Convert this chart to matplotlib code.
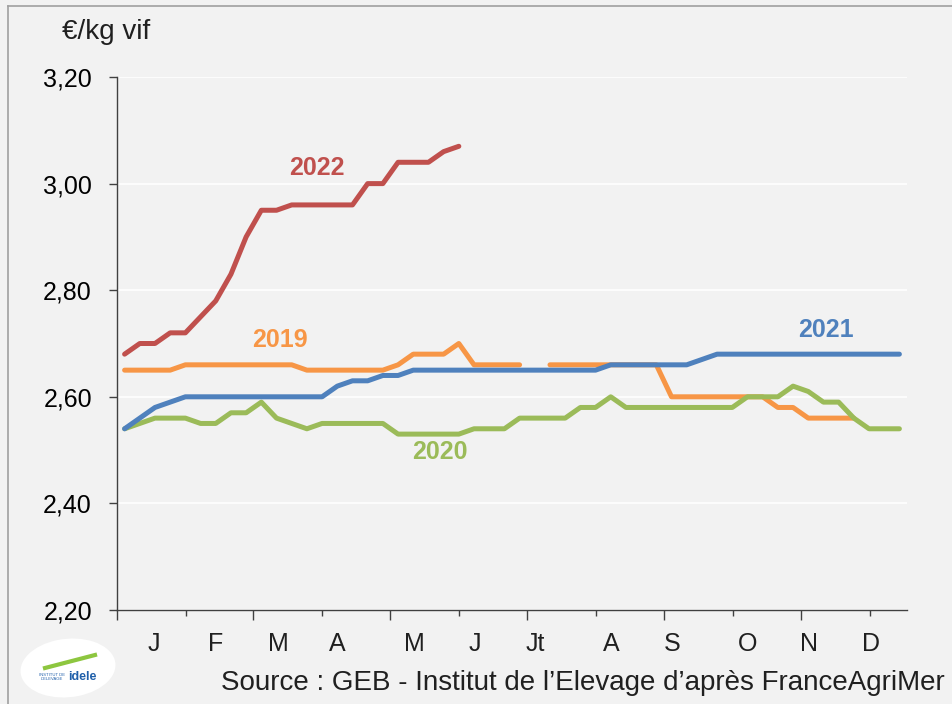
"""
Prix des bovins - cotation hebdomadaire en euros/kg vif, 2019 a 2022
"""

import numpy as np
import matplotlib.pyplot as plt
from matplotlib.patches import Ellipse

# weekly prices (EUR/kg vif), week index 0..51
prix_2019 = [2.65, 2.65, 2.65, 2.65, 2.66, 2.66, 2.66, 2.66, 2.66, 2.66, 2.66, 2.66,
             2.65, 2.65, 2.65, 2.65, 2.65, 2.65, 2.66, 2.68, 2.68, 2.68, 2.70, 2.66,
             2.66, 2.66, 2.66, np.nan, 2.66, 2.66, 2.66, 2.66, 2.66, 2.66, 2.66, 2.66,
             2.60, 2.60, 2.60, 2.60, 2.60, 2.60, 2.60, 2.58, 2.58, 2.56, 2.56, 2.56,
             2.56]
prix_2020 = [2.54, 2.55, 2.56, 2.56, 2.56, 2.55, 2.55, 2.57, 2.57, 2.59, 2.56, 2.55,
             2.54, 2.55, 2.55, 2.55, 2.55, 2.55, 2.53, 2.53, 2.53, 2.53, 2.53, 2.54,
             2.54, 2.54, 2.56, 2.56, 2.56, 2.56, 2.58, 2.58, 2.60, 2.58, 2.58, 2.58,
             2.58, 2.58, 2.58, 2.58, 2.58, 2.60, 2.60, 2.60, 2.62, 2.61, 2.59, 2.59,
             2.56, 2.54, 2.54, 2.54]
prix_2021 = [2.54, 2.56, 2.58, 2.59, 2.60, 2.60, 2.60, 2.60, 2.60, 2.60, 2.60, 2.60,
             2.60, 2.60, 2.62, 2.63, 2.63, 2.64, 2.64, 2.65, 2.65, 2.65, 2.65, 2.65,
             2.65, 2.65, 2.65, 2.65, 2.65, 2.65, 2.65, 2.65, 2.66, 2.66, 2.66, 2.66,
             2.66, 2.66, 2.67, 2.68, 2.68, 2.68, 2.68, 2.68, 2.68, 2.68, 2.68, 2.68,
             2.68, 2.68, 2.68, 2.68]
prix_2022 = [2.68, 2.70, 2.70, 2.72, 2.72, 2.75, 2.78, 2.83, 2.90, 2.95, 2.95, 2.96,
             2.96, 2.96, 2.96, 2.96, 3.00, 3.00, 3.04, 3.04, 3.04, 3.06, 3.07]

mois = ['J', 'F', 'M', 'A', 'M', 'J', 'Jt', 'A', 'S', 'O', 'N', 'D']
mois_pos = [1.94, 6.02, 10.10, 13.98, 19.05, 23.07, 27.02, 32.02, 36.04, 40.98, 45.06, 49.14]
ticks_long = [-0.5, 8.45, 17.47, 26.49, 35.51, 44.53]
ticks_short = [4.04, 12.99, 22.01, 31.03, 40.05, 49.07]
y_ticks = [2.20, 2.40, 2.60, 2.80, 3.00, 3.20]

series = [
    ('2019', prix_2019, '#F79646', (10.23, 2.707)),
    ('2020', prix_2020, '#9BBB59', (20.76, 2.496)),
    ('2021', prix_2021, '#4F81BD', (46.18, 2.725)),
    ('2022', prix_2022, '#C0504D', (12.67, 3.029)),
]

plt.rcParams['font.family'] = ['Liberation Sans', 'DejaVu Sans']

bg = '#F2F2F2'
fig = plt.figure(figsize=(9.53, 7.04), dpi=100, facecolor=bg)
ax = fig.add_axes([117 / 953, 1 - 610 / 704, 790 / 953, 533 / 704])
ax.set_facecolor(bg)

for label, values, color, (lx, ly) in series:
    x = np.arange(len(values))
    ax.plot(x, values, color=color, linewidth=3.6, solid_capstyle='round',
            solid_joinstyle='round')
    ax.text(lx, ly, label, color=color, fontsize=18, fontweight='bold',
            ha='center', va='center')

ax.set_xlim(-0.5, 51.5)
ax.set_ylim(2.20, 3.20)
ax.set_yticks(y_ticks)
ax.set_yticklabels([f'{v:.2f}'.replace('.', ',') for v in y_ticks], fontsize=18)
ax.yaxis.grid(True, color='white', linewidth=1.2)
ax.set_axisbelow(True)

ax.set_xticks(ticks_long)
ax.set_xticks(ticks_short, minor=True)
ax.set_xticklabels([])
ax.tick_params(axis='x', which='major', length=7, width=1, color='#404040')
ax.tick_params(axis='x', which='minor', length=4.5, width=1, color='#404040')
ax.tick_params(axis='y', length=6, width=1, color='#404040', pad=12)

for p, m in zip(mois_pos, mois):
    ax.text(p, -0.063, m, transform=ax.get_xaxis_transform(), ha='center',
            va='center', fontsize=18, color='#202020')

for side in ['top', 'right']:
    ax.spines[side].set_visible(False)
for side in ['left', 'bottom']:
    ax.spines[side].set_color('#404040')
    ax.spines[side].set_linewidth(1)

fig.text(62 / 953, 1 - 32 / 704, '€/kg vif', fontsize=20, va='center', ha='left',
         color='#202020')
fig.text(945 / 953, 1 - 683 / 704, "Source : GEB - Institut de l’Elevage d’après FranceAgriMer",
         fontsize=20, va='center', ha='right', color='#202020')

# slide frame
fig.add_artist(plt.Line2D([8 / 953, 8 / 953], [0, 1 - 6 / 704], color='#A0A0A0', linewidth=1.2))
fig.add_artist(plt.Line2D([8 / 953, 1], [1 - 6 / 704, 1 - 6 / 704], color='#A0A0A0', linewidth=1.2))

# logo (rough)
fig.add_artist(Ellipse((68 / 953, 1 - 668 / 704), 96 / 953, 58 / 704, angle=15,
                       facecolor='white', edgecolor='none'))
fig.add_artist(plt.Line2D([45 / 953, 95 / 953], [1 - 668 / 704, 1 - 655 / 704],
                          color='#8DC63F', linewidth=3))
fig.text(82 / 953, 1 - 677 / 704, 'idele', fontsize=9, fontweight='bold', color='#1F5FAA',
         ha='center', va='center')
fig.text(52 / 953, 1 - 677 / 704, 'INSTITUT DE\nL\'ELEVAGE', fontsize=3, color='#1F5FAA',
         ha='center', va='center')

plt.savefig('out.png', dpi=100, facecolor=bg)
